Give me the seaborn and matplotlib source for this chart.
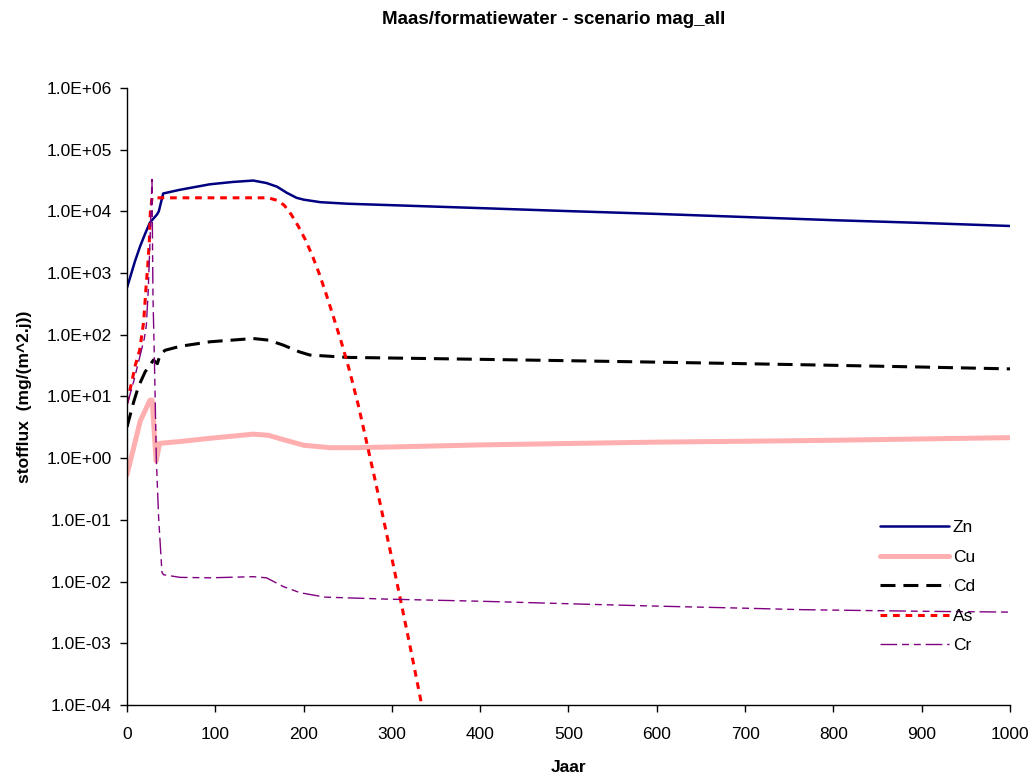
import numpy as np
import pandas as pd
import matplotlib
matplotlib.use("Agg")
import matplotlib.pyplot as plt
from matplotlib.ticker import FixedLocator, FuncFormatter
import seaborn as sns

# --- data: yearly flux per element, mg/(m^2.j) ---
zn_years = [0, 5, 9, 15, 21, 26, 34, 36, 41, 60, 94, 120, 143, 158, 170, 181, 192,
            200, 219, 250, 300, 400, 500, 600, 700, 800, 900, 1000]
zn_flux = [580, 1000, 1550, 2750, 4500, 6600, 8900, 10000, 19500, 22400, 27500, 30000,
           31600, 28800, 25100, 20000, 16600, 15500, 14100, 13300, 12600, 11300, 10100,
           9100, 8100, 7200, 6500, 5800]

cu_years = [0, 6, 15, 26, 28.5, 33, 37, 60, 94, 143, 160, 177, 200, 230, 260, 300,
            400, 500, 600, 700, 800, 900, 1000]
cu_flux = [0.54, 1.2, 4.0, 8.7, 8.7, 0.9, 1.74, 1.86, 2.1, 2.45, 2.35, 2.0, 1.62, 1.48,
           1.48, 1.52, 1.64, 1.73, 1.82, 1.88, 1.95, 2.05, 2.15]

cd_years = [0, 7.5, 13, 20.5, 30, 34.4, 37.4, 43, 60, 94, 143, 160, 177, 195, 207,
            250, 300, 400, 500, 600, 700, 800, 900, 1000]
cd_flux = [3.2, 8.1, 14.5, 25, 39, 34, 47, 56, 65, 77, 87, 82, 68, 53, 47, 43, 42, 40,
           38, 36, 34, 32, 30, 28]

as_years = [0, 5.7, 9.4, 14.3, 18.9, 21.9, 23.4, 25.3, 26.4, 28.3, 100, 160, 170, 178,
            186, 194, 202, 210, 218, 226, 234, 243, 252, 262, 272, 282, 292, 302, 312,
            322, 332, 342]
as_flux = [7.8, 18, 32, 56, 162, 690, 1230, 3300, 9500, 16600, 16600, 16600, 15100,
           12600, 8900, 5750, 3470, 1900, 955, 437, 191, 74, 26.3, 7.2, 1.66, 0.38,
           0.081, 0.0174, 0.00355, 0.00071, 0.000135, 0.000025]

cr_years = [0, 7.5, 13, 19.6, 21.9, 24, 26, 28.3, 29.4, 31, 33.2, 35.8, 39.6, 41.5, 60,
            94, 143, 158, 177, 196, 224, 293, 400, 518, 600, 700, 766, 900, 1000]
cr_flux = [7.2, 17.4, 36, 87, 141, 500, 3160, 33000, 430, 42, 1.0, 0.11, 0.014, 0.0129,
           0.0117, 0.0115, 0.012, 0.0115, 0.0083, 0.0066, 0.0056, 0.0052, 0.0048,
           0.0043, 0.0040, 0.0037, 0.0035, 0.0033, 0.0032]

x_ticks = list(range(0, 1001, 100))
y_ticks = [1e-4, 1e-3, 1e-2, 1e-1, 1e0, 1e1, 1e2, 1e3, 1e4, 1e5, 1e6]

sns.set_theme(style="ticks")
plt.rcParams["font.family"] = ["Liberation Sans", "DejaVu Sans"]
plt.rcParams["text.color"] = "black"
plt.rcParams["axes.labelcolor"] = "black"

fig = plt.figure(figsize=(10.35, 7.8), dpi=100)
ax = fig.add_axes([0.1227, 0.0962, 0.8531, 0.791])

series = [
    ("Zn", zn_years, zn_flux, dict(color="#000080", lw=1.8, linestyle="-")),
    ("Cu", cu_years, cu_flux, dict(color="#FFAFAF", lw=3.6, linestyle="-")),
    ("Cd", cd_years, cd_flux, dict(color="#000000", lw=2.2, linestyle=(0, (4.9, 2.6)))),
    ("As", as_years, as_flux, dict(color="#FF0000", lw=2.2, linestyle=(0, (2.2, 1.9)))),
    ("Cr", cr_years, cr_flux, dict(color="#800080", lw=1.0,
                                   linestyle=(0, (12, 3.5, 5, 3.5, 5, 3.5)))),
]

for name, yrs, vals, style in series:
    df = pd.DataFrame({"Jaar": yrs, "flux": vals})
    sns.lineplot(data=df, x="Jaar", y="flux", ax=ax, label=name, estimator=None,
                 sort=False, **style)

ax.set_yscale("log")
ax.set_xlim(0, 1000)
ax.set_ylim(1e-4, 1e6)
ax.xaxis.set_major_locator(FixedLocator(x_ticks))
ax.yaxis.set_major_locator(FixedLocator(y_ticks))
ax.yaxis.set_minor_locator(FixedLocator([]))
ax.yaxis.set_major_formatter(FuncFormatter(lambda v, p: f"{v:.1E}"))
ax.tick_params(axis="both", which="major", direction="out", length=5, width=1,
               labelsize=12.5, color="black", labelcolor="black")
ax.tick_params(axis="x", pad=11)
ax.tick_params(axis="y", pad=6)
for side in ("left", "bottom"):
    ax.spines[side].set_color("black")
    ax.spines[side].set_linewidth(1.0)
sns.despine(ax=ax)

ax.set_xlabel("Jaar", fontsize=12.5, fontweight="bold")
ax.set_ylabel("stofflux  (mg/(m^2.j))", fontsize=12.5, fontweight="bold")
ax.xaxis.set_label_coords(0.5, -0.089)
ax.yaxis.set_label_coords(-0.108, 0.5)
fig.text(0.535, 0.975, "Maas/formatiewater - scenario mag_all", fontsize=13.5,
         fontweight="bold", ha="center", va="center")

leg = ax.legend(loc="upper left", bbox_to_anchor=(0.845, 0.311), frameon=False,
                fontsize=12.5, handlelength=4.0, handletextpad=0.2, labelspacing=0.83,
                borderaxespad=0)

fig.savefig("out.png", dpi=100)
